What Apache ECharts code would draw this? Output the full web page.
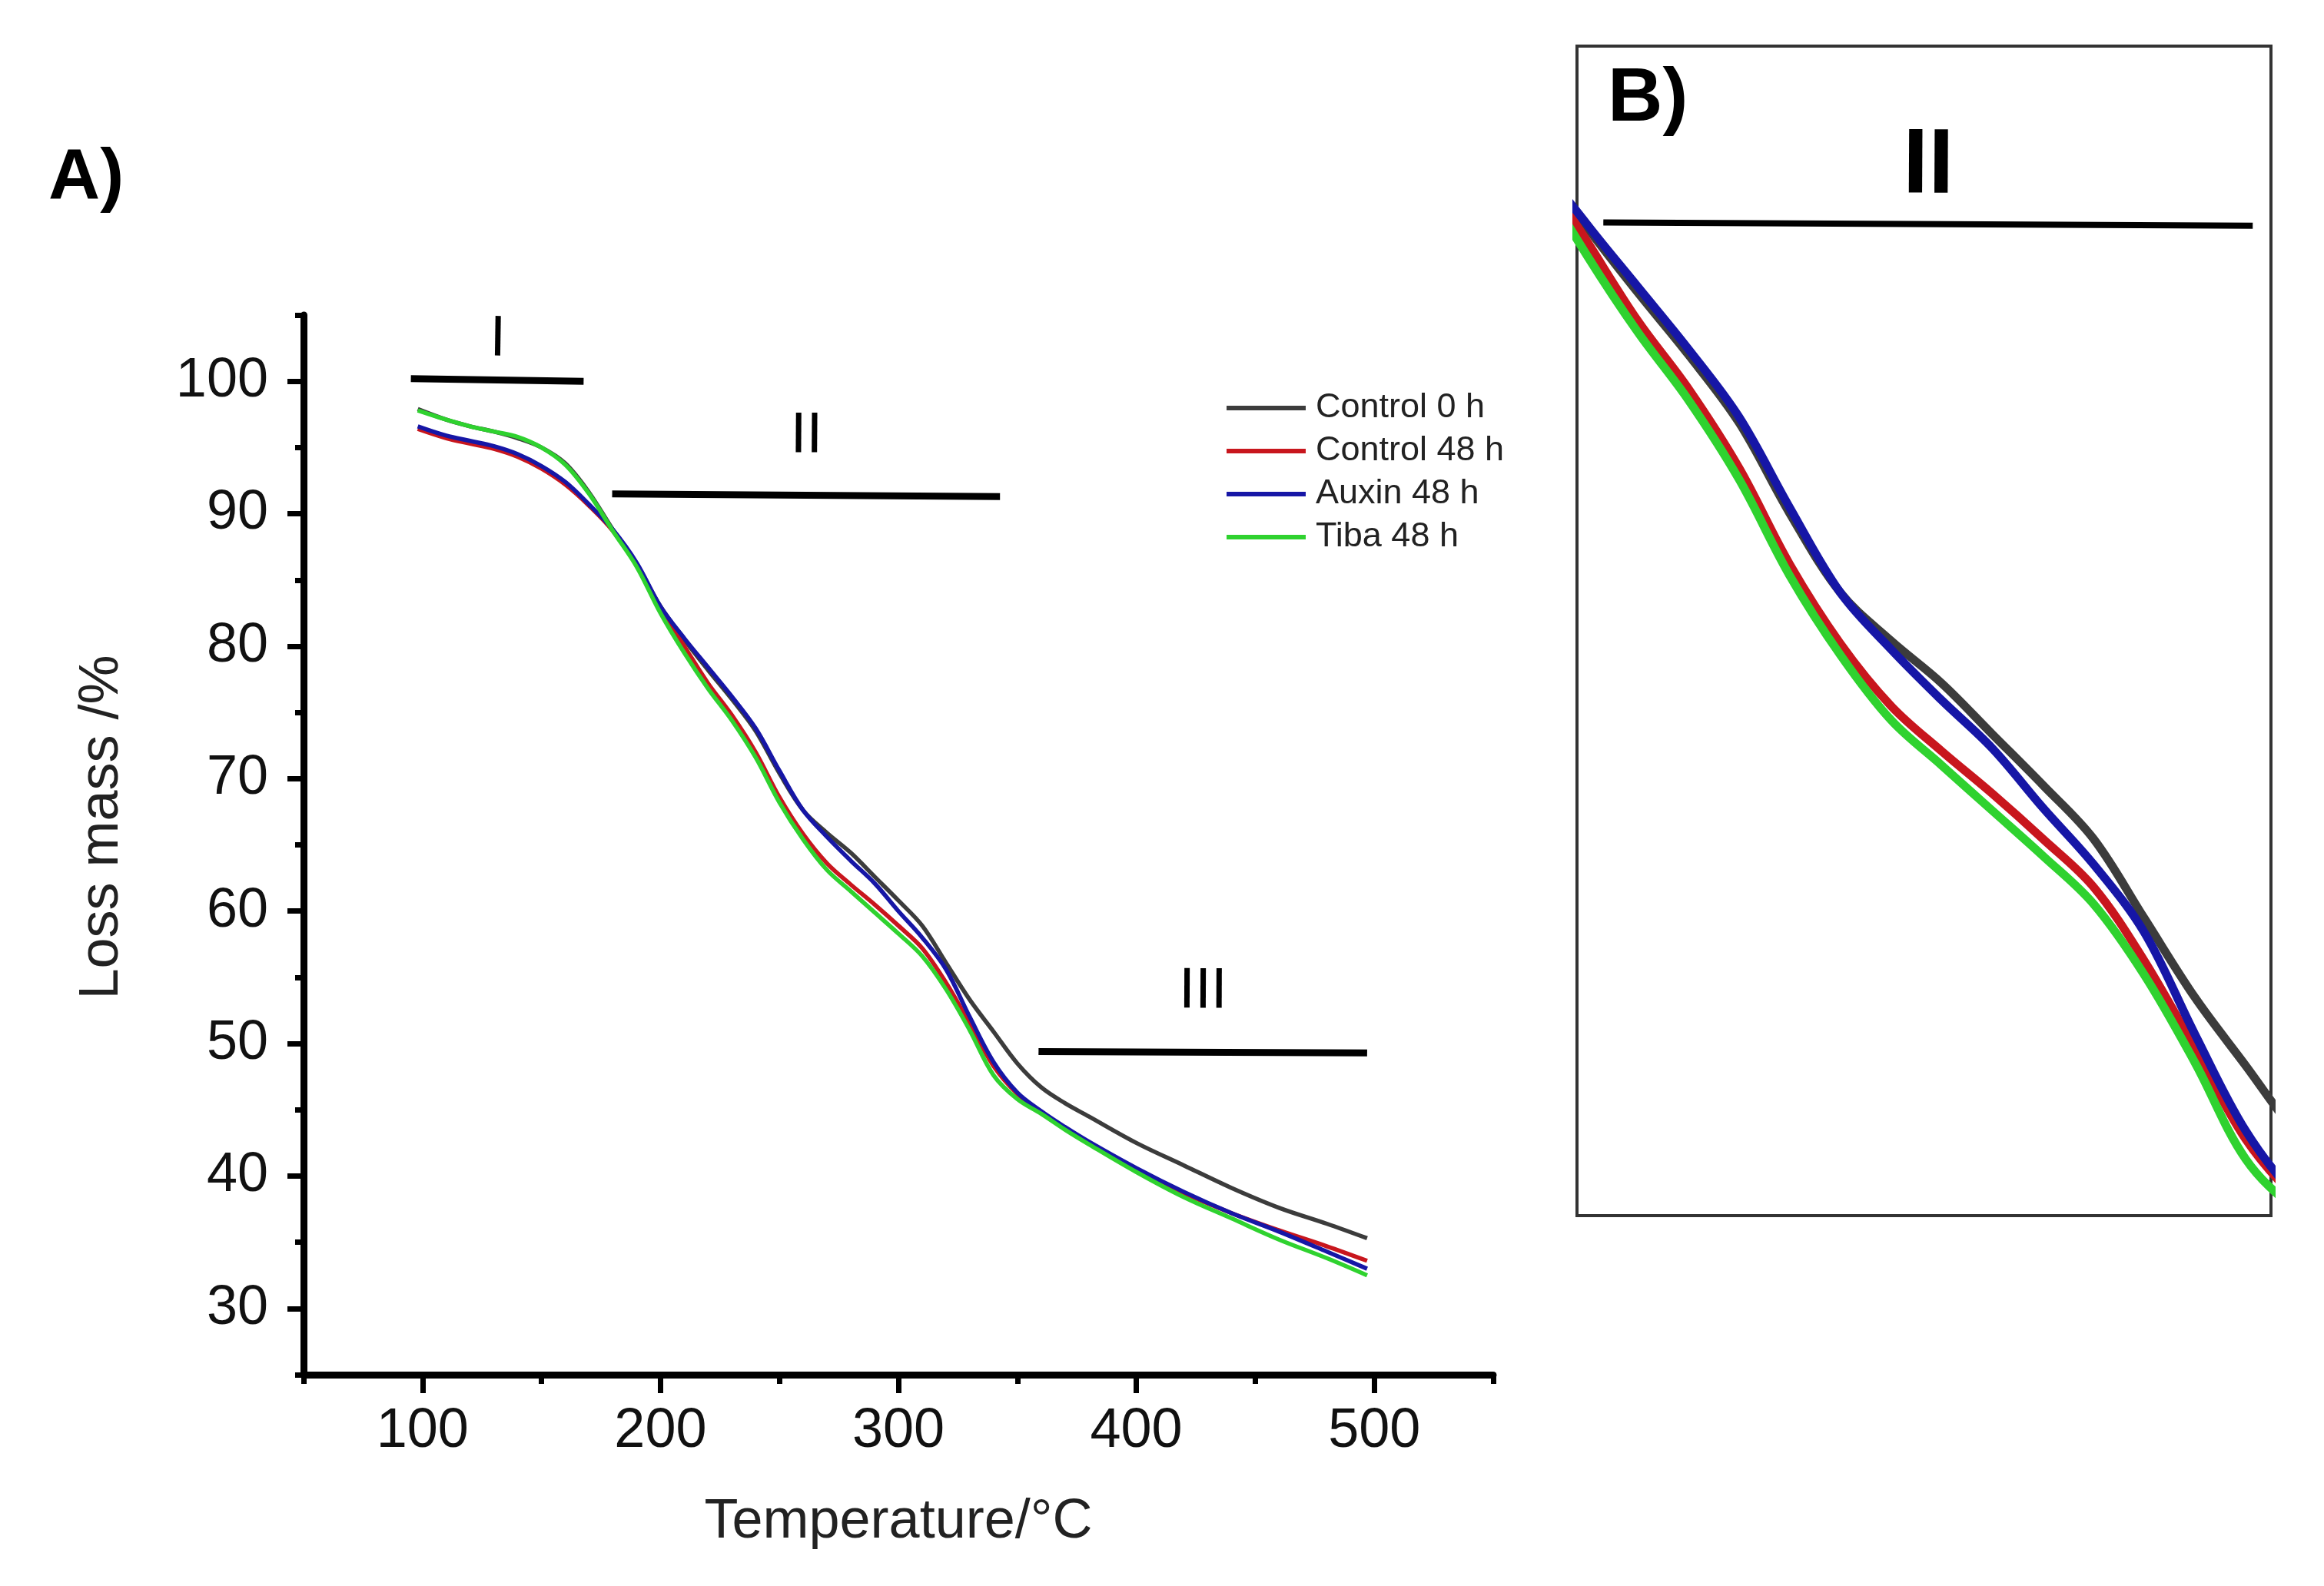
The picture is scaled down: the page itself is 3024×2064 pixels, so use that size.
<!DOCTYPE html>
<html>
<head>
<meta charset="utf-8">
<script src="https://cdn.jsdelivr.net/npm/echarts@6/dist/echarts.min.js"></script>
<style>html,body{margin:0;padding:0;background:#fff;}#c{width:3024px;height:2064px;}</style>
</head>
<body>
<div id="c"></div>
<script>
// ---- data ----
const temps = [98,110,120,130,140,150,160,170,180,190,200,210,220,230,240,250,260,270,280,290,300,310,320,330,340,350,360,370,380,400,420,440,460,480,497];
const control0 = [97.9,97.1,96.6,96.2,95.7,95.0,93.8,91.6,88.8,86.2,83.0,80.5,78.2,76.0,73.6,70.4,67.6,65.9,64.4,62.6,60.8,58.9,56.1,53.3,50.9,48.5,46.7,45.5,44.5,42.5,40.8,39.1,37.6,36.4,35.3];
const control48 = [96.4,95.7,95.3,94.9,94.3,93.4,92.2,90.6,88.7,86.1,82.8,80.0,77.2,74.8,72.0,68.6,65.8,63.6,62.0,60.5,58.9,57.2,54.6,51.5,48.3,46.2,44.8,43.6,42.5,40.5,38.7,37.2,35.9,34.7,33.6];
const auxin48 = [96.6,95.9,95.5,95.1,94.5,93.6,92.4,90.7,88.8,86.3,83.0,80.6,78.4,76.2,73.8,70.6,67.6,65.6,63.8,62.1,60.0,58.0,55.6,52.0,48.6,46.3,44.9,43.7,42.6,40.6,38.8,37.2,35.8,34.3,33.0];
const tiba48 = [97.8,97.1,96.6,96.2,95.8,95.0,93.7,91.5,88.7,86.0,82.5,79.5,76.8,74.4,71.6,68.2,65.4,63.1,61.5,59.9,58.3,56.6,54.1,51.0,47.6,45.8,44.7,43.5,42.4,40.3,38.4,36.8,35.2,33.8,32.5];
const seriesNames = ['Control 0 h','Control 48 h','Auxin 48 h','Tiba 48 h'];
const seriesValues = [control0, control48, auxin48, tiba48];
const seriesColors = ['#3c3c3c','#c8161d','#1616a6','#2fd22f'];
const xMajorTicks = [100,200,300,400,500];
const xMinorTicks = [50,150,250,350,450,550];
const yMajorTicks = [30,40,50,60,70,80,90,100];
const yMinorTicks = [25,35,45,55,65,75,85,95,105];
// stage annotations (A): [x1,y1,x2,y2,label]
const stagesA = [
  [95.1,100.2,167.7,100.0,'I'],
  [179.7,91.5,342.7,91.3,'II'],
  [358.9,49.4,497,49.3,'III']
];
// stage annotation (B)
const stagesB = [[213.2,80.67,341.4,80.56,'II']];
// zoom window of panel B
const bWindowX = [208,345];
const bWindowY = [45.6,86.9];

const FONT = "'Liberation Sans', Arial, Helvetica, sans-serif";
const chart = echarts.init(document.getElementById('c'));

function pts(vals){ return temps.map((t,i)=>[t, vals[i]]); }

const series = [];
seriesNames.forEach((n,i)=>{
  series.push({
    name:n, type:'line', xAxisIndex:0, yAxisIndex:0, data:pts(seriesValues[i]),
    showSymbol:false, smooth:0.35, lineStyle:{color:seriesColors[i], width:5.5},
    itemStyle:{color:seriesColors[i]}, z:2+i
  });
});
seriesNames.forEach((n,i)=>{
  series.push({
    name:n, type:'line', xAxisIndex:2, yAxisIndex:2, data:pts(seriesValues[i]),
    showSymbol:false, smooth:0.35, clip:true, lineStyle:{color:seriesColors[i], width:11},
    itemStyle:{color:seriesColors[i]}, z:2+i
  });
});
const distA = [15,39,41];
series.push({
  type:'line', xAxisIndex:0, yAxisIndex:0, data:[], silent:true,
  markLine:{
    silent:true, symbol:['none','none'], animation:false,
    lineStyle:{color:'#000', width:9, type:'solid'},
    data: stagesA.map((s,i)=>[
      {coord:[s[0],s[1]], label:{show:true, formatter:s[4], position:'middle', distance:distA[i], fontSize:75, color:'#000', fontFamily:FONT}},
      {coord:[s[2],s[3]]}
    ])
  }
});
series.push({
  type:'line', xAxisIndex:2, yAxisIndex:2, data:[], silent:true,
  markLine:{
    silent:true, symbol:['none','none'], animation:false,
    lineStyle:{color:'#000', width:8, type:'solid'},
    data: stagesB.map(s=>[
      {coord:[s[0],s[1]], label:{show:true, formatter:s[4], position:'middle', distance:14, fontSize:120, fontWeight:'bold', color:'#000', fontFamily:FONT}},
      {coord:[s[2],s[3]]}
    ])
  }
});

const option = {
  animation:false,
  backgroundColor:'#fff',
  title:[
    {text:'A)', left:58, top:181, textStyle:{fontSize:93, fontWeight:'bold', color:'#000', fontFamily:FONT}},
    {text:'B)', left:2087, top:75, textStyle:{fontSize:99, fontWeight:'bold', color:'#000', fontFamily:FONT}}
  ],
  legend:{
    data:seriesNames, orient:'vertical', left:1591, top:503,
    icon:'rect', itemWidth:103, itemHeight:6, itemGap:10,
    textStyle:{fontSize:45, color:'#222', lineHeight:46, fontFamily:FONT, padding:[0,0,0,8]}
  },
  grid:[
    {left:395, top:410, width:1548, height:1379, show:false},
    {left:2052, top:60, width:903, height:1522, show:true, borderColor:'#333', borderWidth:4, backgroundColor:'transparent'}
  ],
  xAxis:[
    {gridIndex:0, type:'value', position:'bottom', min:50, max:550,
     axisLine:{show:true, onZero:false, lineStyle:{color:'#000', width:9}},
     axisTick:{show:true, customValues:xMajorTicks, length:24, lineStyle:{color:'#000', width:7}},
     axisLabel:{show:true, customValues:xMajorTicks, fontSize:72, margin:38, color:'#111', fontFamily:FONT},
     splitLine:{show:false},
     name:'Temperature/°C', nameLocation:'middle', nameGap:156,
     nameTextStyle:{fontSize:72, color:'#222', fontFamily:FONT}},
    {gridIndex:0, type:'value', position:'bottom', min:50, max:550,
     axisLine:{show:false, onZero:false},
     axisTick:{show:true, customValues:xMinorTicks, length:12, lineStyle:{color:'#000', width:7}},
     axisLabel:{show:false}, splitLine:{show:false}},
    {gridIndex:1, type:'value', min:bWindowX[0], max:bWindowX[1], show:false, splitLine:{show:false}}
  ],
  yAxis:[
    {gridIndex:0, type:'value', position:'left', min:25, max:105,
     axisLine:{show:true, onZero:false, lineStyle:{color:'#000', width:9}},
     axisTick:{show:true, customValues:yMajorTicks, length:21, lineStyle:{color:'#000', width:7}},
     axisLabel:{show:true, customValues:yMajorTicks, fontSize:72, margin:46, color:'#111', fontFamily:FONT},
     splitLine:{show:false},
     name:'Loss mass /%', nameLocation:'middle', nameGap:226,
     nameTextStyle:{fontSize:72, color:'#222', fontFamily:FONT, padding:[0,0,0,46]}},
    {gridIndex:0, type:'value', position:'left', min:25, max:105,
     axisLine:{show:false, onZero:false},
     axisTick:{show:true, customValues:yMinorTicks, length:11, lineStyle:{color:'#000', width:7}},
     axisLabel:{show:false}, splitLine:{show:false}},
    {gridIndex:1, type:'value', min:bWindowY[0], max:bWindowY[1], show:false, splitLine:{show:false}}
  ],
  series: series
};
chart.setOption(option);
</script>
</body>
</html>
